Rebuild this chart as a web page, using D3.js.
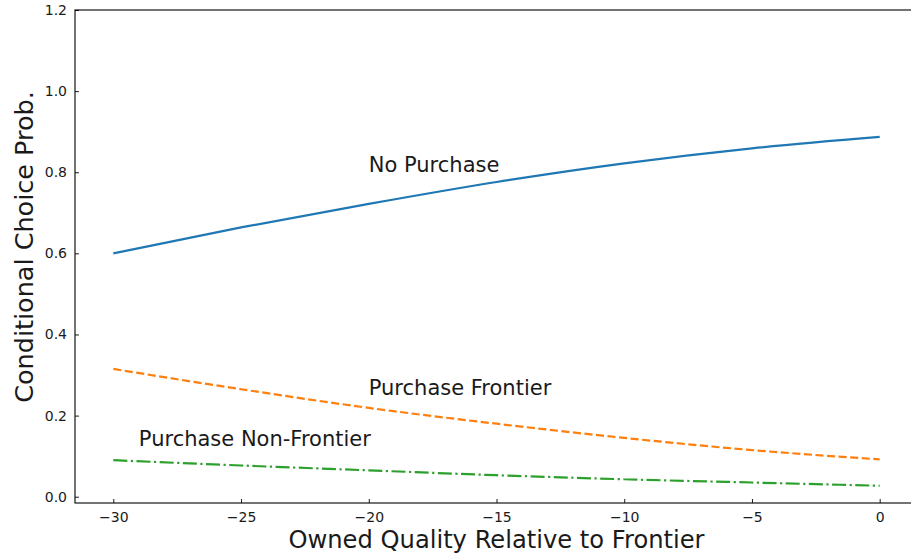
<!DOCTYPE html>
<html>
<head>
<meta charset="utf-8">
<script src="https://cdn.jsdelivr.net/npm/d3@7"></script>
<style>
  html, body { margin: 0; padding: 0; background: #fff; }
  svg { display: block; font-family: "DejaVu Sans", sans-serif; }
</style>
</head>
<body>
<svg id="chart" width="911" height="556"></svg>
<script>
// ---- data ----
const quality = [-30, -25, -20, -15, -10, -5, 0];
const noPurchase = [0.600, 0.664, 0.722, 0.776, 0.822, 0.859, 0.887];
const purchaseFrontier = [0.315, 0.265, 0.219, 0.180, 0.145, 0.115, 0.092];
const purchaseNonFrontier = [0.090, 0.077, 0.065, 0.053, 0.043, 0.035, 0.027];
const xTicks = [-30, -25, -20, -15, -10, -5, 0];
const yTicks = [0.0, 0.2, 0.4, 0.6, 0.8, 1.0, 1.2];
const seriesNames = ["No Purchase", "Purchase Frontier", "Purchase Non-Frontier"];
const labelPos = [[-20, 0.8], [-20, 0.25], [-29, 0.125]];

// ---- layout ----
const svg = d3.select("#chart");
const mLeft = 75, mRight = 918, mTop = 10, mBottom = 503;
const x = d3.scaleLinear().domain([-31.5, 1.5]).range([mLeft, mRight]);
const y = d3.scaleLinear().domain([-0.0155, 1.2]).range([mBottom, mTop]);

const series = [
  { name: seriesNames[0], values: noPurchase, color: "#1f77b4", dash: null },
  { name: seriesNames[1], values: purchaseFrontier, color: "#ff7f0e", dash: "8.1,3.5" },
  { name: seriesNames[2], values: purchaseNonFrontier, color: "#2ca02c", dash: "14,3.5,2.2,3.5" }
];

const line = d3.line()
  .x(d => x(d[0]))
  .y(d => y(d[1]))
  .curve(d3.curveMonotoneX);

series.forEach(s => {
  svg.append("path")
    .datum(quality.map((q, i) => [q, s.values[i]]))
    .attr("d", line)
    .attr("fill", "none")
    .attr("stroke", s.color)
    .attr("stroke-width", 2.2)
    .attr("stroke-dasharray", s.dash);
});

// axes
const fmtMinus = d => d3.format("d")(d).replace("-", "\u2212");
const xAxis = d3.axisBottom(x).tickValues(xTicks).tickFormat(fmtMinus).tickSizeInner(-4).tickSizeOuter(0).tickPadding(9);
const yAxis = d3.axisLeft(y).tickValues(yTicks).tickFormat(d3.format(".1f")).tickSizeInner(-4).tickSizeOuter(0).tickPadding(8);

const gx = svg.append("g").attr("transform", `translate(0,${mBottom})`).call(xAxis);
const gy = svg.append("g").attr("transform", `translate(${mLeft},0)`).call(yAxis);
[gx, gy].forEach(g => {
  g.select(".domain").remove();
  g.selectAll("text").attr("font-family", "DejaVu Sans").attr("font-size", 14).attr("fill", "#1a1a1a");
  g.selectAll("line").attr("stroke", "#000").attr("stroke-width", 0.9);
});

// spines
svg.append("rect")
  .attr("x", mLeft).attr("y", mTop)
  .attr("width", mRight - mLeft).attr("height", mBottom - mTop)
  .attr("fill", "none").attr("stroke", "#000").attr("stroke-width", 1.1);

// series labels
series.forEach((s, i) => {
  svg.append("text")
    .attr("x", x(labelPos[i][0]))
    .attr("y", y(labelPos[i][1]))
    .attr("font-size", 21)
    .attr("fill", "#1a1a1a")
    .text(s.name);
});

// axis labels
svg.append("text")
  .attr("x", (mLeft + mRight) / 2)
  .attr("y", 547.5)
  .attr("text-anchor", "middle")
  .attr("font-size", 24.2)
  .attr("fill", "#1a1a1a")
  .text("Owned Quality Relative to Frontier");

svg.append("text")
  .attr("transform", `translate(33,247) rotate(-90)`)
  .attr("text-anchor", "middle")
  .attr("font-size", 25.5)
  .attr("fill", "#1a1a1a")
  .text("Conditional Choice Prob.");
</script>
</body>
</html>
